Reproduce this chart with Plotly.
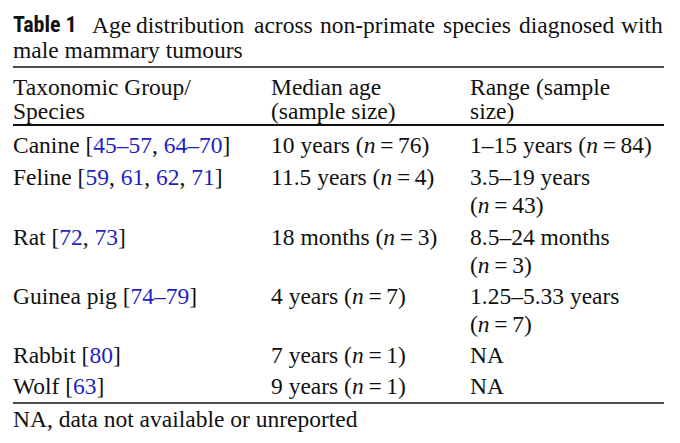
import plotly.graph_objects as go

# table content
species = ["Canine", "Feline", "Rat", "Guinea pig", "Rabbit", "Wolf"]
refs = [["45–57", "64–70"], ["59", "61", "62", "71"], ["72", "73"], ["74–79"], ["80"], ["63"]]
median_age = ["10 years", "11.5 years", "18 months", "4 years", "7 years", "9 years"]
median_n = [76, 4, 3, 7, 1, 1]
range_age = ["1–15 years", "3.5–19 years", "8.5–24 months", "1.25–5.33 years", "NA", "NA"]
range_n = [84, 43, 3, 7, None, None]
range_wrap = [False, True, True, True, False, False]

caption_label = "Table 1"
caption_words = ["Age", "distribution", "across", "non-primate", "species", "diagnosed", "with"]
caption_line2 = "male mammary tumours"
headers = [["Taxonomic Group/", "Species"], ["Median age", "(sample size)"], ["Range (sample", "size)"]]
footnote = "NA, data not available or unreported"

# page body keeps an 8px margin, so the figure is a bit smaller than the window
PAGE = 8
FW, FH = 680 - PAGE, 443 - PAGE
SERIF = "Liberation Serif, Times New Roman, serif"
BLUE = "#1f1fc4"
INK = "#111111"
FS = 23.5
col_x = [13, 271, 470]
row_y = [146, 178, 238, 297, 356, 387]
# caption line is justified, so words are set one by one
word_x = [92, 136, 254, 320, 443, 519, 621]
line_gap = 28


def nstr(n):
    return f"(<i>n</i>\u2009=\u2009{n})"


def px(x):
    return (x - PAGE) / FW


def py(y):
    return 1 - (y - PAGE) / FH


fig = go.Figure()
fig.update_layout(width=FW, height=FH, margin=dict(l=0, r=0, t=0, b=0),
                  paper_bgcolor="white", plot_bgcolor="white",
                  xaxis=dict(visible=False), yaxis=dict(visible=False),
                  showlegend=False)


def txt(x, y, s, size=FS, family=SERIF):
    # annotations carry ~2px of padding around the text
    fig.add_annotation(x=px(x - 2), y=py(y - 1), xref="paper", yref="paper",
                       text=s, showarrow=False, xanchor="left", yanchor="middle",
                       font=dict(family=family, size=size, color=INK))


# caption
txt(13, 25, f"<b>{caption_label}</b>", size=22,
    family="Liberation Sans Narrow, Arial Narrow, Roboto Condensed, Lato, sans-serif")
for w, x in zip(caption_words, word_x):
    txt(x, 26, w)
txt(13, 51, caption_line2)

# header
for c, lines in enumerate(headers):
    for k, s in enumerate(lines):
        txt(col_x[c], 88 + k * 24, s)

# body
for i, sp in enumerate(species):
    links = ", ".join(f"<span style='color:{BLUE}'>{r}</span>" for r in refs[i])
    txt(col_x[0], row_y[i], f"{sp} [{links}]")
    txt(col_x[1], row_y[i], f"{median_age[i]} {nstr(median_n[i])}")
    if range_n[i] is None:
        txt(col_x[2], row_y[i], range_age[i])
    elif range_wrap[i]:
        txt(col_x[2], row_y[i], range_age[i])
        txt(col_x[2], row_y[i] + line_gap, nstr(range_n[i]))
    else:
        txt(col_x[2], row_y[i], f"{range_age[i]} {nstr(range_n[i])}")

txt(13, 420, footnote)

# rules
for y, w in [(67, 1.6), (125, 2.2), (403, 1.6)]:
    fig.add_shape(type="line", xref="paper", yref="paper",
                  x0=px(13), x1=px(664), y0=py(y), y1=py(y),
                  line=dict(color=INK, width=w))

fig.write_html("out.html")
